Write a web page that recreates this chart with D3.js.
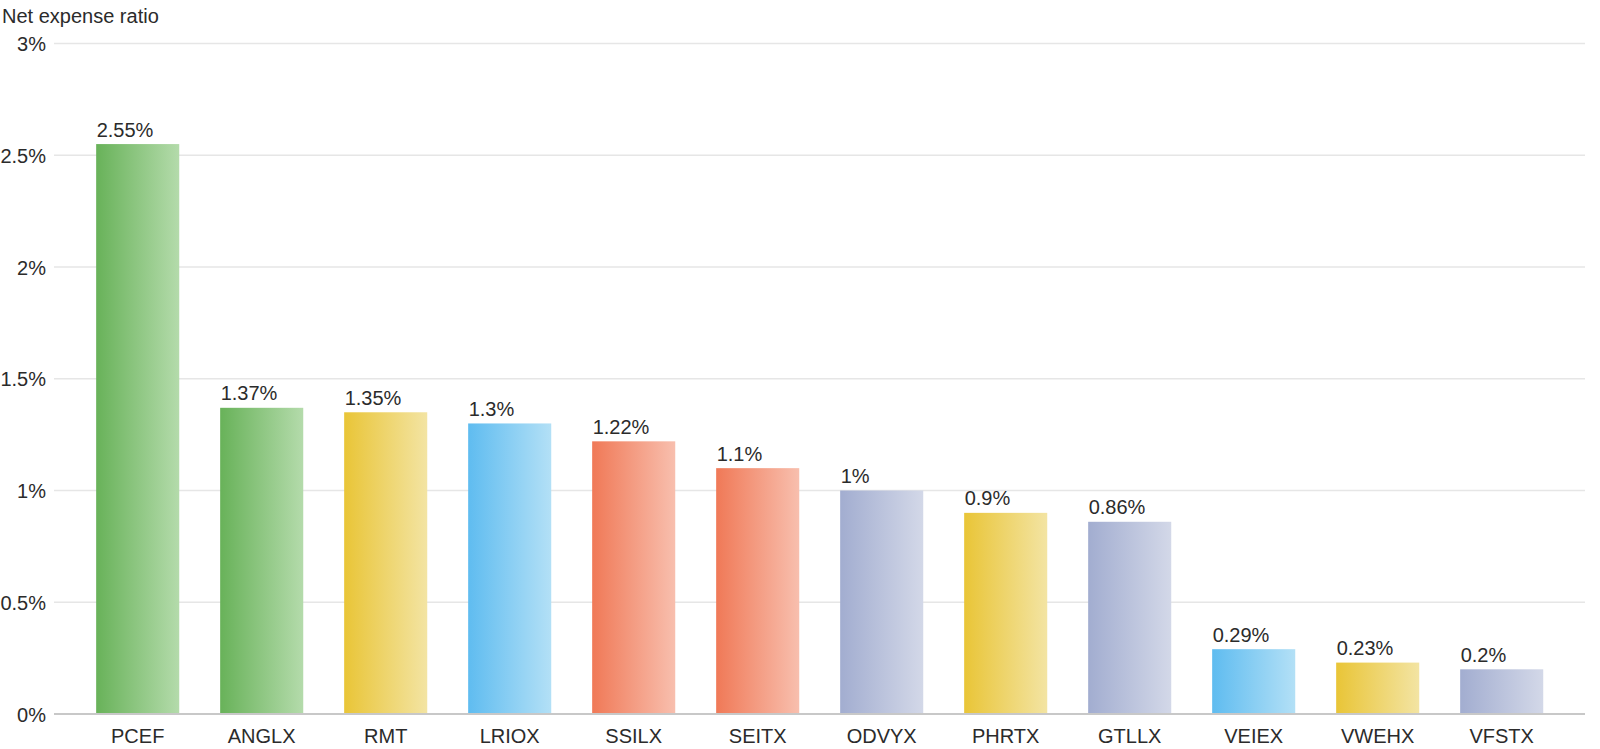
<!DOCTYPE html>
<html><head><meta charset="utf-8">
<script src="https://cdn.jsdelivr.net/npm/d3@7"></script>
<style>
html,body{margin:0;padding:0;background:#fff;}
text{font-family:"Liberation Sans",Arial,Helvetica,sans-serif;fill:#2b2b2b;}
</style></head>
<body>
<svg id="chart" width="1600" height="749"></svg>
<script>
const categories = ["PCEF","ANGLX","RMT","LRIOX","SSILX","SEITX","ODVYX","PHRTX","GTLLX","VEIEX","VWEHX","VFSTX"];
const values = [2.55,1.37,1.35,1.3,1.22,1.1,1.0,0.9,0.86,0.29,0.23,0.2];
const valueLabels = ["2.55%","1.37%","1.35%","1.3%","1.22%","1.1%","1%","0.9%","0.86%","0.29%","0.23%","0.2%"];
const colorGroup = ["green","green","yellow","blue","orange","orange","lavender","yellow","lavender","blue","yellow","lavender"];
const yTicks = [0,0.5,1,1.5,2,2.5,3];
const yTickLabels = ["0%","0.5%","1%","1.5%","2%","2.5%","3%"];
const yTitle = "Net expense ratio";

const palette = {
  green:["#68b259","#b4dbab"],
  yellow:["#e9c537","#f3e4a3"],
  blue:["#5fbcf0","#b3e0f6"],
  orange:["#f07957","#f8bfae"],
  lavender:["#a2add0","#d3d8e8"]
};

const svg = d3.select("#chart");
const gridLeft = 54, gridRight = 1585;
const y = d3.scaleLinear().domain([0,3]).range([714,43.5]);
const x = d3.scaleBand().domain(categories).range([75.7,1563.7]).paddingInner(0.33).paddingOuter(0.165);
const fs = 20;

const defs = svg.append("defs");
Object.entries(palette).forEach(([k,c])=>{
  const g = defs.append("linearGradient").attr("id","g-"+k).attr("x1","0").attr("x2","1").attr("y1","0").attr("y2","0");
  g.append("stop").attr("offset","0").attr("stop-color",c[0]);
  g.append("stop").attr("offset","1").attr("stop-color",c[1]);
});

svg.append("g").selectAll("line").data(yTicks.filter(d=>d>0)).join("line")
  .attr("x1",gridLeft).attr("x2",gridRight)
  .attr("y1",d=>y(d)).attr("y2",d=>y(d))
  .attr("stroke","#e6e6e6").attr("stroke-width",1.5);

svg.append("g").selectAll("text").data(yTicks).join("text")
  .attr("x",46).attr("y",d=>y(d)).attr("dy","0.38em")
  .attr("text-anchor","end").attr("font-size",fs)
  .text((d,i)=>yTickLabels[i]);

svg.append("text").attr("x",2).attr("y",23).attr("font-size",fs).text(yTitle);

svg.append("g").selectAll("rect").data(values).join("rect")
  .attr("x",(d,i)=>x(categories[i]))
  .attr("width",x.bandwidth())
  .attr("y",d=>y(d))
  .attr("height",d=>y(0)-y(d))
  .attr("fill",(d,i)=>`url(#g-${colorGroup[i]})`);

svg.append("g").selectAll("text").data(values).join("text")
  .attr("x",(d,i)=>x(categories[i])+0.5)
  .attr("y",d=>y(d)-7.5)
  .attr("font-size",fs)
  .text((d,i)=>valueLabels[i]);

svg.append("line").attr("x1",gridLeft).attr("x2",gridRight)
  .attr("y1",y(0)).attr("y2",y(0)).attr("stroke","#c8c8c8").attr("stroke-width",2);

svg.append("g").selectAll("text").data(categories).join("text")
  .attr("x",d=>x(d)+x.bandwidth()/2).attr("y",742.5)
  .attr("text-anchor","middle").attr("font-size",fs)
  .text(d=>d);
</script>
</body></html>
